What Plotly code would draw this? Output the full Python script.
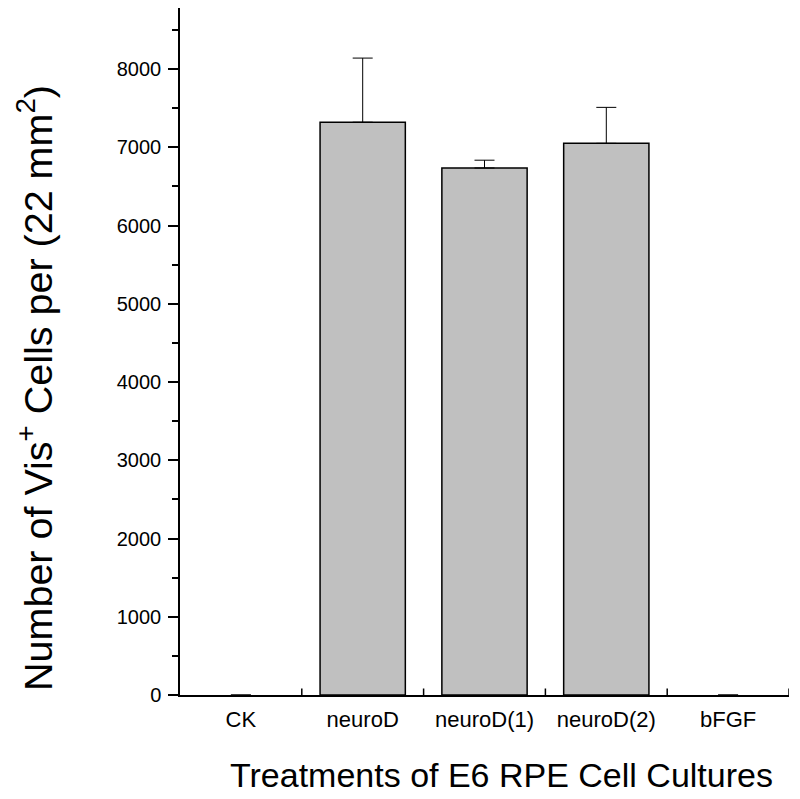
import plotly.graph_objects as go

categories = ["CK", "neuroD", "neuroD(1)", "neuroD(2)", "bFGF"]
values = [0, 7320, 6735, 7050, 0]
errors_plus = [None, 820, 100, 460, None]

y_ticks = [0, 1000, 2000, 3000, 4000, 5000, 6000, 7000, 8000]

FONT = "Liberation Sans, Arial, sans-serif"

fig = go.Figure()
fig.add_trace(go.Bar(
    x=categories,
    y=values,
    marker=dict(color=["#c0c0c0" if v > 0 else "rgba(0,0,0,0)" for v in values],
                line=dict(color="black", width=[1.5 if v > 0 else 0 for v in values])),
    error_y=dict(type="data", symmetric=False, array=errors_plus,
                 arrayminus=[None if e is None else 0 for e in errors_plus],
                 color="black", thickness=1, width=10, visible=True),
    showlegend=False,
))

# crossing tick marks at category boundaries
for i in range(len(categories)):
    fig.add_shape(type="line", xref="x", yref="y", x0=i + 0.5, x1=i + 0.5,
                  ysizemode="pixel", yanchor=0, y0=-6.5, y1=6.5,
                  line=dict(color="black", width=1.5))

fig.update_layout(
    width=800, height=799,
    margin=dict(l=172, r=19, t=0, b=112, autoexpand=False),
    plot_bgcolor="white", paper_bgcolor="white",
    bargap=0.30,
    font=dict(family=FONT, color="black"),
    xaxis=dict(
        showline=True, linecolor="black", linewidth=1.5,
        ticks="", showgrid=False, zeroline=False, automargin=False,
        tickfont=dict(size=22, family=FONT), ticklabelstandoff=4,
        range=[-0.5, len(categories) - 0.5],
    ),
    yaxis=dict(
        range=[0, 8780], tickvals=y_ticks, automargin=False,
        showline=True, linecolor="black", linewidth=1.5,
        ticks="outside", ticklen=10, tickwidth=1.5, tickcolor="black",
        minor=dict(dtick=500, ticks="outside", ticklen=6, tickwidth=1.5, tickcolor="black"),
        showgrid=False, zeroline=False,
        tickfont=dict(size=20, family=FONT), ticklabelstandoff=3,
    ),
    annotations=[
        dict(text="Number of Vis<sup>+</sup> Cells per (22 mm<sup>2</sup>)",
             xref="paper", yref="paper", x=-0.238, y=0.447,
             textangle=-90, showarrow=False, font=dict(size=39.5, family=FONT),
             xanchor="center", yanchor="middle"),
        dict(text="Treatments of E6 RPE Cell Cultures",
             xref="paper", yref="paper", x=0.5277, y=-0.1164,
             showarrow=False, font=dict(size=34, family=FONT),
             xanchor="center", yanchor="middle"),
    ],
)

fig.write_html("out.html")
